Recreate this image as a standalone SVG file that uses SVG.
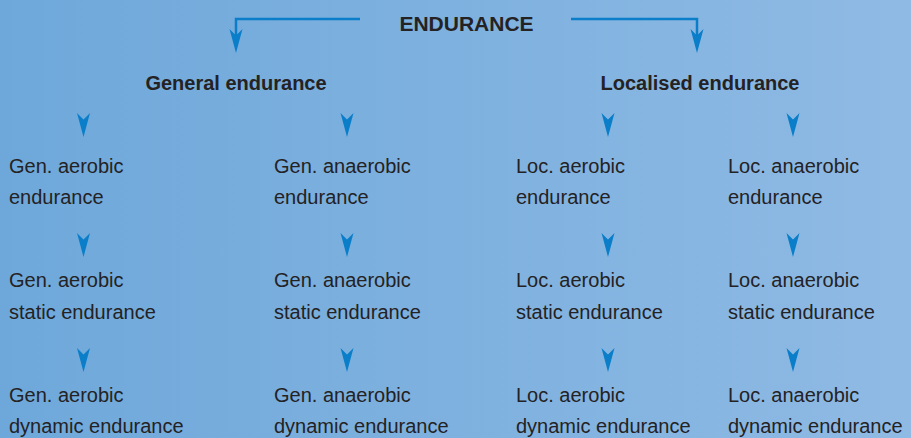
<svg xmlns="http://www.w3.org/2000/svg" xmlns:xlink="http://www.w3.org/1999/xlink" width="911" height="438" viewBox="0 0 911 438">
  <defs>
    <linearGradient id="bg" x1="0" y1="0" x2="1" y2="0">
      <stop offset="0" stop-color="#6ea8da"/>
      <stop offset="1" stop-color="#8fbae4"/>
    </linearGradient>
    <path id="head" d="M-6.5,0 L0,6.5 L6.5,0 L0,24 Z" fill="#0a7ec8"/>
    <style>
      .t { font-family: "Liberation Sans", Arial, sans-serif; font-size: 20px; fill: #242223; }
      .h { font-family: "Liberation Sans", Arial, sans-serif; font-size: 20px; font-weight: bold; fill: #242223; text-anchor: middle; }
      .line { fill: none; stroke: #0a7ec8; stroke-width: 2.5; }
    </style>
  </defs>
  <rect width="911" height="438" fill="url(#bg)"/>

  <g id="connectors">
    <path class="line" d="M360,19 H236 V36"/>
    <use xlink:href="#head" x="236" y="29"/>
    <path class="line" d="M571,19 H697 V36"/>
    <use xlink:href="#head" x="697" y="29"/>
    <use xlink:href="#head" x="83.5" y="113"/>
    <use xlink:href="#head" x="347" y="113"/>
    <use xlink:href="#head" x="608" y="113"/>
    <use xlink:href="#head" x="793" y="113"/>
    <use xlink:href="#head" x="83.5" y="233"/>
    <use xlink:href="#head" x="347" y="233"/>
    <use xlink:href="#head" x="608" y="233"/>
    <use xlink:href="#head" x="793" y="233"/>
    <use xlink:href="#head" x="83.5" y="348"/>
    <use xlink:href="#head" x="347" y="348"/>
    <use xlink:href="#head" x="608" y="348"/>
    <use xlink:href="#head" x="793" y="348"/>
  </g>

  <g id="endurance"><text class="h" x="466.5" y="31" style="font-size:21px">ENDURANCE</text></g>
  <g id="general"><text class="h" x="236" y="90">General endurance</text></g>
  <g id="localised"><text class="h" x="700" y="90">Localised endurance</text></g>

  <g id="gen-aerobic"><text class="t" x="9" y="173">Gen. aerobic</text><text class="t" x="9" y="204">endurance</text></g>
  <g id="gen-anaerobic"><text class="t" x="274" y="173">Gen. anaerobic</text><text class="t" x="274" y="204">endurance</text></g>
  <g id="loc-aerobic"><text class="t" x="516" y="173">Loc. aerobic</text><text class="t" x="516" y="204">endurance</text></g>
  <g id="loc-anaerobic"><text class="t" x="728" y="173">Loc. anaerobic</text><text class="t" x="728" y="204">endurance</text></g>

  <g id="gen-aerobic-static"><text class="t" x="9" y="287">Gen. aerobic</text><text class="t" x="9" y="319">static endurance</text></g>
  <g id="gen-anaerobic-static"><text class="t" x="274" y="287">Gen. anaerobic</text><text class="t" x="274" y="319">static endurance</text></g>
  <g id="loc-aerobic-static"><text class="t" x="516" y="287">Loc. aerobic</text><text class="t" x="516" y="319">static endurance</text></g>
  <g id="loc-anaerobic-static"><text class="t" x="728" y="287">Loc. anaerobic</text><text class="t" x="728" y="319">static endurance</text></g>

  <g id="gen-aerobic-dynamic"><text class="t" x="9" y="402">Gen. aerobic</text><text class="t" x="9" y="433">dynamic endurance</text></g>
  <g id="gen-anaerobic-dynamic"><text class="t" x="274" y="402">Gen. anaerobic</text><text class="t" x="274" y="433">dynamic endurance</text></g>
  <g id="loc-aerobic-dynamic"><text class="t" x="516" y="402">Loc. aerobic</text><text class="t" x="516" y="433">dynamic endurance</text></g>
  <g id="loc-anaerobic-dynamic"><text class="t" x="728" y="402">Loc. anaerobic</text><text class="t" x="728" y="433">dynamic endurance</text></g>
</svg>
